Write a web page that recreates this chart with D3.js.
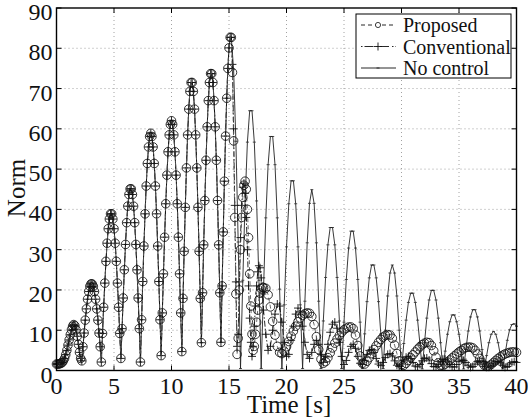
<!DOCTYPE html>
<html>
<head>
<meta charset="utf-8">
<script src="https://cdn.jsdelivr.net/npm/d3@7"></script>
<style>
  body { margin: 0; background: #fff; }
</style>
</head>
<body>
<div id="chart"></div>
<script>
// ---- data (norm vs time) ----
// all three responses coincide while the excitation is on: t = 0.0 .. 15.2, step 0.1
var forcedNorm = [
    1.6, 1.6, 1.6, 1.7, 1.8, 2.0, 2.4, 3.0, 3.9, 5.0, 6.3, 7.6, 8.9, 10.1, 11.0, 11.4, 11.1, 10.1, 8.5, 6.5, 4.5, 3.0, 2.4,
    5.9, 9.3, 12.5, 15.3, 17.7, 19.6, 20.9, 21.5, 21.5, 20.9, 19.6, 17.7, 15.3, 12.5, 9.3, 5.9, 2.1,
    9.2, 15.7, 21.7, 27.1, 31.6, 35.2, 37.6, 38.9, 38.9, 37.6, 35.2, 31.6, 27.1, 21.7, 15.7, 9.2, 3.0,
    10.4, 18.0, 25.0, 31.3, 36.7, 40.8, 43.7, 45.1, 45.1, 43.7, 40.8, 36.7, 31.3, 25.0, 18.0, 10.4, 2.1,
    12.6, 22.1, 30.9, 38.9, 45.8, 51.4, 55.5, 58.1, 58.9, 58.1, 55.5, 51.4, 45.8, 38.9, 30.9, 22.1, 12.6, 3.7,
    14.3, 24.0, 33.1, 41.4, 48.5, 54.3, 58.5, 61.1, 62.0, 61.1, 58.5, 54.3, 48.5, 41.4, 33.1, 24.0, 14.3, 4.7,
    17.9, 29.6, 40.5, 50.3, 58.5, 64.9, 69.3, 71.5, 71.5, 69.3, 64.9, 58.5, 50.3, 40.5, 29.6, 17.9, 6.9,
    19.3, 31.2, 42.2, 52.2, 60.5, 67.0, 71.5, 73.7, 73.7, 71.5, 67.0, 60.5, 52.2, 42.2, 31.2, 19.3, 7.0,
    21.0, 34.4, 47.0, 58.2, 67.6, 75.0, 80.1, 82.7, 82.7
];

// no control, free vibration: t = 15.4 .. 40.0, step 0.2
var noControlTail = [
    74.7, 56.9, 31.9, 0.5,
    22.4, 42.1, 56.7, 64.5, 64.5, 56.7, 42.1, 22.4, 0.5,
    20.2, 37.9, 51.1, 58.1, 58.1, 51.1, 37.9, 20.2, 0.5,
    16.3, 30.7, 41.4, 47.1, 47.1, 41.4, 30.7, 16.3, 0.5,
    17.2, 31.7, 41.5, 44.9, 41.5, 31.7, 17.2, 0.5,
    12.3, 23.1, 31.2, 35.5, 35.5, 31.2, 23.1, 12.3, 0.5,
    12.0, 22.6, 30.4, 34.6, 34.6, 30.4, 22.6, 12.0, 0.5,
    9.1, 17.1, 23.0, 26.2, 26.2, 23.0, 17.1, 9.1, 0.5,
    10.0, 18.5, 24.2, 26.2, 24.2, 18.5, 10.0, 0.5,
    6.7, 12.5, 16.9, 19.2, 19.2, 16.9, 12.5, 6.7, 0.4,
    6.9, 13.0, 17.5, 19.9, 19.9, 17.5, 13.0, 6.9, 0.4,
    4.8, 9.0, 12.1, 13.8, 13.8, 12.1, 9.0, 4.8, 0.4,
    5.2, 9.8, 13.3, 15.1, 15.1, 13.3, 9.8, 5.2, 0.4,
    3.7, 6.9, 9.0, 9.7, 9.0, 6.9, 3.7, 0.4,
    4.0, 7.5, 10.1, 11.4, 11.6, 11.0
];

// controller switched on: t = 15.3 .. 17.9, step 0.1
var proposedRelease = [74, 57, 38, 19, 4, 8, 20, 30, 38, 43, 46, 47, 45, 40, 33, 24, 16, 9, 5, 6, 9, 12, 15, 17.5, 19.2, 20.3, 20.7];
var conventionalRelease = [76, 60, 41, 22, 6, 9, 22, 33, 41, 45.5, 46.5, 44, 38, 30, 21, 13, 7, 3.5, 6, 11, 16, 21, 24.5, 26, 25.5, 23, 19];

// t = 18.0 .. 40.0, step 0.2
var proposedTail = [
    20.6, 20.4, 18.8, 15.8, 12.2, 8.8, 6.0, 4.5, 4.2, 4.8,
    5.9, 7.2, 8.5, 9.8, 11.0, 12.1, 13.0, 13.7, 14.1, 14.3,
    14.2, 13.4, 11.4, 8.4, 5.2, 2.8, 1.8, 2.2, 3.2, 4.4,
    5.6, 6.8, 7.8, 8.7, 9.5, 10.1, 10.5, 10.8, 10.8, 10.4,
    8.8, 6.2, 3.6, 1.8, 1.6, 2.3, 3.2, 4.2, 5.2, 6.1,
    7.0, 7.7, 8.3, 8.7, 8.9, 8.8, 8.0, 6.3, 4.2, 2.4,
    1.4, 1.3, 1.8, 2.5, 3.2, 3.9, 4.6, 5.3, 5.9, 6.4,
    6.8, 7.0, 6.9, 6.2, 4.9, 3.3, 1.9, 1.2, 1.2, 1.6,
    2.1, 2.6, 3.1, 3.6, 4.1, 4.6, 5.0, 5.4, 5.7, 5.8,
    5.8, 5.6, 5.0, 4.1, 3.0, 2.0, 1.3, 1.0, 1.1, 1.5,
    2.0, 2.5, 3.0, 3.4, 3.8, 4.1, 4.3, 4.5, 4.6, 4.6,
    4.5
];
var conventionalTail = [
    15, 9, 5, 6, 10, 14, 16.5, 16, 12, 7,
    3.5, 4, 7.5, 11, 14, 15.5, 14.5, 11, 7, 4,
    3, 4.5, 6.5, 7.5, 6.5, 4, 2, 3.5, 6.5, 9.5,
    11.5, 12, 10.5, 7, 3.5, 1.5, 2.5, 4.5, 6, 6.5,
    5.5, 3.5, 1.8, 1.5, 2.5, 4, 5, 5.2, 4.5, 3,
    1.6, 1.2, 2, 3.2, 4, 4.2, 3.6, 2.4, 1.3, 1.0,
    1.6, 2.6, 3.3, 3.5, 3.0, 2.0, 1.1, 0.9, 1.5, 2.4,
    3.0, 3.1, 2.6, 1.7, 1.0, 0.9, 1.5, 2.3, 2.8, 2.8,
    2.3, 1.5, 0.9, 0.9, 1.5, 2.2, 2.6, 2.5, 2.0, 1.3,
    0.8, 1.0, 1.6, 2.2, 2.4, 2.2, 1.6, 1.0, 0.8, 1.2,
    1.8, 2.2, 2.3, 1.9, 1.3, 0.8, 1.0, 1.6, 2.0, 2.2,
    2.0
];

var xTicks = [0, 5, 10, 15, 20, 25, 30, 35, 40];
var yTicks = [0, 10, 20, 30, 40, 50, 60, 70, 80, 90];
var legendLabels = ["Proposed", "Conventional", "No control"];

var serif = "'Liberation Serif', 'Times New Roman', Times, 'DejaVu Serif', serif";

// time samples -> points
var stepSeries = function (t0, dt, values) {
    return values.map(function (v, i) {
        return {t: +(t0 + i * dt).toFixed(2), v: v};
    });
};

var forced = stepSeries(0, 0.1, forcedNorm);
var noControl = forced.concat(stepSeries(15.4, 0.2, noControlTail));
var conventional = forced.concat(stepSeries(15.3, 0.1, conventionalRelease), stepSeries(18.0, 0.2, conventionalTail));
var proposed = forced.concat(stepSeries(15.3, 0.1, proposedRelease), stepSeries(18.0, 0.2, proposedTail));

// ---- layout ----
var W = 528, H = 419;
var margin = {top: 8, right: 11.5, bottom: 48.5, left: 56.5},
    width = W - margin.left - margin.right,
    height = H - margin.top - margin.bottom;

var svg = d3.select("#chart").append("svg")
    .attr("width", W)
    .attr("height", H)
    .attr("font-family", serif);

var g = svg.append("g")
    .attr("transform", "translate(" + margin.left + "," + margin.top + ")");

var x = d3.scaleLinear().domain([0, 40]).range([0, width]);
var y = d3.scaleLinear().domain([0, 90]).range([height, 0]);

// grid
g.append("g").selectAll("line.vg")
    .data(xTicks.slice(1, -1))
    .enter().append("line")
    .attr("x1", function (d) { return x(d); })
    .attr("x2", function (d) { return x(d); })
    .attr("y1", 0).attr("y2", height)
    .attr("stroke", "#8a8a8a").attr("stroke-width", 0.8)
    .attr("stroke-dasharray", "1,3");
g.append("g").selectAll("line.hg")
    .data(yTicks.slice(1, -1))
    .enter().append("line")
    .attr("y1", function (d) { return y(d); })
    .attr("y2", function (d) { return y(d); })
    .attr("x1", 0).attr("x2", width)
    .attr("stroke", "#8a8a8a").attr("stroke-width", 0.8)
    .attr("stroke-dasharray", "1,3");

// ---- series ----
var line = d3.line()
    .x(function (d) { return x(d.t); })
    .y(function (d) { return y(d.v); });

// no control: thin solid line, tiny tick at each sample
g.append("path")
    .datum(noControl)
    .attr("d", line)
    .attr("fill", "none")
    .attr("stroke", "#222")
    .attr("stroke-width", 0.9);
g.append("g").selectAll("path")
    .data(noControl)
    .enter().append("path")
    .attr("d", "M-1.5,0H1.5")
    .attr("transform", function (d) { return "translate(" + x(d.t) + "," + y(d.v) + ")"; })
    .attr("stroke", "#222").attr("stroke-width", 0.8);

// conventional: dash-dot line with + markers
g.append("path")
    .datum(conventional)
    .attr("d", line)
    .attr("fill", "none")
    .attr("stroke", "#111")
    .attr("stroke-width", 0.9)
    .attr("stroke-dasharray", "6,2,1.5,2");
g.append("g").selectAll("path")
    .data(conventional)
    .enter().append("path")
    .attr("d", "M-4,0H4M0,-4V4")
    .attr("transform", function (d) { return "translate(" + x(d.t) + "," + y(d.v) + ")"; })
    .attr("stroke", "#111").attr("stroke-width", 0.9);

// proposed: dashed line with circles
g.append("path")
    .datum(proposed)
    .attr("d", line)
    .attr("fill", "none")
    .attr("stroke", "#555")
    .attr("stroke-width", 0.9)
    .attr("stroke-dasharray", "4,3");
g.append("g").selectAll("circle")
    .data(proposed)
    .enter().append("circle")
    .attr("cx", function (d) { return x(d.t); })
    .attr("cy", function (d) { return y(d.v); })
    .attr("r", 4.3)
    .attr("fill", "none")
    .attr("stroke", "#111").attr("stroke-width", 0.85);

// ---- axes box + inward ticks ----
g.append("rect")
    .attr("x", 0).attr("y", 0)
    .attr("width", width).attr("height", height)
    .attr("fill", "none").attr("stroke", "#000").attr("stroke-width", 1.4);

var tickLen = 5;
g.append("g").selectAll("path")
    .data(xTicks)
    .enter().append("path")
    .attr("d", function (d) {
        return "M" + x(d) + "," + height + "v" + (-tickLen) + "M" + x(d) + ",0v" + tickLen;
    })
    .attr("stroke", "#000").attr("stroke-width", 1);
g.append("g").selectAll("path")
    .data(yTicks)
    .enter().append("path")
    .attr("d", function (d) {
        return "M0," + y(d) + "h" + tickLen + "M" + width + "," + y(d) + "h" + (-tickLen);
    })
    .attr("stroke", "#000").attr("stroke-width", 1);

// tick labels
g.append("g").selectAll("text")
    .data(xTicks)
    .enter().append("text")
    .attr("x", function (d) { return x(d); })
    .attr("y", height + 23)
    .attr("text-anchor", "middle")
    .attr("font-family", serif)
    .attr("font-size", 24)
    .attr("fill", "#111")
    .text(function (d) { return d; });
g.append("g").selectAll("text")
    .data(yTicks)
    .enter().append("text")
    .attr("x", -4)
    .attr("y", function (d) { return y(d) + 12; })
    .attr("text-anchor", "end")
    .attr("font-family", serif)
    .attr("font-size", 24)
    .attr("fill", "#111")
    .text(function (d) { return d; });

// axis titles
svg.append("text")
    .attr("x", 289).attr("y", 413)
    .attr("text-anchor", "middle")
    .attr("font-family", serif)
    .attr("font-size", 25)
    .attr("fill", "#111")
    .text("Time [s]");
svg.append("text")
    .attr("transform", "translate(25,188) rotate(-90)")
    .attr("text-anchor", "middle")
    .attr("font-family", serif)
    .attr("font-size", 25)
    .attr("fill", "#111")
    .text("Norm");

// ---- legend ----
var leg = svg.append("g").attr("transform", "translate(356,14)");
leg.append("rect")
    .attr("width", 155).attr("height", 64)
    .attr("fill", "#fff").attr("stroke", "#000").attr("stroke-width", 1);

var rowY = [11, 32.5, 54];
var rows = leg.selectAll("g.row")
    .data(legendLabels)
    .enter().append("g")
    .attr("transform", function (d, i) { return "translate(0," + rowY[i] + ")"; });

rows.append("line")
    .attr("x1", 5).attr("x2", 40)
    .attr("stroke", "#111").attr("stroke-width", 0.9)
    .attr("stroke-dasharray", function (d, i) { return ["4,3", "1.5,2,9,3", null][i]; });
rows.append("text")
    .attr("x", 47).attr("y", 7)
    .attr("font-family", serif)
    .attr("font-size", 20)
    .attr("fill", "#111")
    .text(function (d) { return d; });

leg.append("circle").attr("cx", 22).attr("cy", rowY[0]).attr("r", 2.6)
    .attr("fill", "#fff").attr("stroke", "#111").attr("stroke-width", 0.8);
leg.append("path").attr("d", "M18,32.5H26M22,28.5V36.5")
    .attr("stroke", "#111").attr("stroke-width", 0.9);
leg.append("path").attr("d", "M20.5,54H23.5")
    .attr("stroke", "#111").attr("stroke-width", 0.8);
</script>
</body>
</html>
